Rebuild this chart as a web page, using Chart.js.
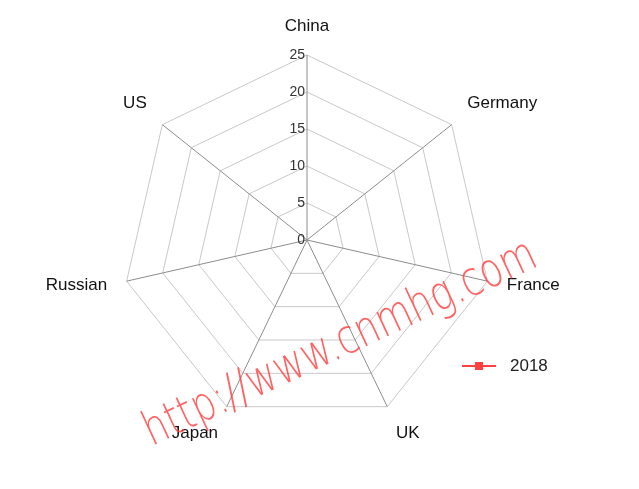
<!DOCTYPE html>
<html>
<head>
<meta charset="utf-8">
<script src="https://cdn.jsdelivr.net/npm/chart.js@4/dist/chart.umd.min.js"></script>
<style>
    html, body { margin: 0; padding: 0; background: #fff; }
    #wrap { position: relative; width: 639px; height: 489px; overflow: hidden; }
    #legend {
        position: absolute; left: 462px; top: 356px;
        font: 17px "Liberation Sans", Arial, sans-serif; color: #222;
        display: flex; align-items: center;
    }
    #legend .mark { position: relative; width: 34px; height: 2px; background: #ff4040; margin-right: 14px; }
    #legend .mark i { position: absolute; left: 13px; top: -3px; width: 8px; height: 8px; background: #ff4040; }
    #watermark {
        position: absolute; left: 75px; top: 328px; width: 460px; text-align: center;
        font-family: "DejaVu Sans", sans-serif; font-weight: 200; font-size: 48px;
        color: rgba(255, 60, 60, 0.8);
        transform: rotate(-25deg) scaleX(0.77); transform-origin: center center;
        white-space: nowrap; pointer-events: none;
    }
</style>
</head>
<body>
<div id="wrap">
    <canvas id="chart" width="639" height="489"></canvas>
    <div id="legend"></div>
    <div id="watermark">http://www.cnmhg.com</div>
</div>
<script>
// Chart data
const categories = ['China', 'Germany', 'France', 'UK', 'Japan', 'Russian', 'US'];
const seriesName = '2018';
const values2018 = [null, null, null, null, null, null, null];
const tickValues = [0, 5, 10, 15, 20, 25];

const seriesColor = '#ff4040';
const labelFont = '17px "Liberation Sans", Arial, sans-serif';

// Tick labels left of the vertical axis, category names round the outside
const labelPlugin = {
    id: 'radarLabels',
    afterDraw(chart) {
        const scale = chart.scales.r;
        const ctx = chart.ctx;
        ctx.save();
        ctx.font = '14px "Liberation Sans", Arial, sans-serif';
        ctx.fillStyle = '#333';
        ctx.textAlign = 'right';
        ctx.textBaseline = 'middle';
        tickValues.forEach(v => {
            const d = scale.getDistanceFromCenterForValue(v);
            ctx.fillText(String(v), scale.xCenter - 2, scale.yCenter - d);
        });

        ctx.font = labelFont;
        ctx.fillStyle = '#111';
        const outer = scale.drawingArea + 20;
        categories.forEach((name, i) => {
            const p = scale.getPointPosition(i, outer);
            const deg = (360 / categories.length) * i;
            ctx.textAlign = deg === 0 ? 'center' : (deg < 180 ? 'left' : 'right');
            if (Math.abs(deg - 90) < 30 || Math.abs(deg - 270) < 30) {
                ctx.textBaseline = 'middle';
            } else if (deg < 90 || deg > 270) {
                ctx.textBaseline = 'bottom';
            } else {
                ctx.textBaseline = 'top';
            }
            ctx.fillText(name, p.x, p.y);
        });
        ctx.restore();
    }
};

const ctx = document.getElementById('chart').getContext('2d');
const chart = new Chart(ctx, {
    type: 'radar',
    data: {
        labels: categories,
        datasets: [{
            label: seriesName,
            data: values2018,
            borderColor: seriesColor,
            backgroundColor: seriesColor,
            borderWidth: 2,
            pointStyle: 'rect',
            pointRadius: 4,
            fill: false
        }]
    },
    options: {
        responsive: false,
        animation: false,
        layout: { padding: { top: 55, bottom: 64, left: 0, right: 25 } },
        plugins: {
            legend: { display: false },
            tooltip: { enabled: false }
        },
        scales: {
            r: {
                min: 0,
                max: 25,
                ticks: { stepSize: 5, display: false },
                grid: { color: '#c8c8c8', lineWidth: 1 },
                angleLines: { color: '#8c8c8c', lineWidth: 1 },
                pointLabels: { display: false }
            }
        }
    },
    plugins: [labelPlugin]
});

// Legend
const legend = document.getElementById('legend');
legend.innerHTML = `<span class="mark"><i></i></span><span>${seriesName}</span>`;
</script>
</body>
</html>
